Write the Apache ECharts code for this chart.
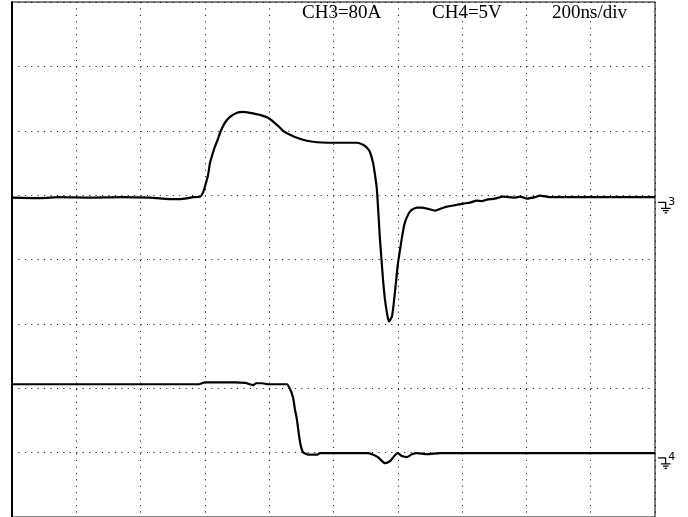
<!DOCTYPE html>
<html>
<head>
<meta charset="utf-8">
<script src="https://cdn.jsdelivr.net/npm/echarts@6/dist/echarts.min.js"></script>
<style>html,body{margin:0;padding:0;background:#fff;}#c{width:688px;height:517px;}</style>
</head>
<body>
<div id="c"></div>
<script>
// Time axis (ns), 200 ns/div, 10 divisions
var timeTicks = [0, 200, 400, 600, 800, 1000, 1200, 1400, 1600, 1800, 2000];
// Channel settings
var ch3Scale = 80;   // A/div
var ch4Scale = 5;    // V/div
var ch3Ground = 0.961; // divisions from screen centre
var ch4Ground = -3.008;
var labels = ['CH3=80A', 'CH4=5V', '200ns/div'];

// CH3 current (A) vs time (ns)
var ch3Time = [0, 87, 149, 243, 336, 429, 507, 538, 563, 585, 594, 600, 610, 616, 625, 631, 641, 647, 662, 678, 700, 718, 740, 771, 796, 824, 843, 865, 886, 917, 949, 980, 1036, 1073, 1092, 1104, 1113, 1123, 1129, 1135, 1144, 1154, 1160, 1166, 1172, 1182, 1191, 1200, 1207, 1216, 1222, 1232, 1238, 1247, 1260, 1275, 1291, 1316, 1334, 1353, 1378, 1403, 1424, 1446, 1462, 1477, 1502, 1527, 1564, 1580, 1602, 1627, 1642, 1673, 1735, 1829, 1922, 2000];
var ch3Amps = [0, -0.6, 0.6, 0, 0.6, 0, -1.9, -1.2, 0.6, 1.2, 6.2, 13.6, 28.5, 43.4, 55.8, 63.2, 73.2, 80.6, 93, 100.4, 105.4, 106.6, 105.4, 102.9, 99.2, 90.5, 83.1, 78.1, 74.4, 70.7, 68.8, 68.2, 68.2, 68.2, 65.7, 62, 57, 43.4, 28.5, 9.9, -48.4, -101.7, -126.5, -142.6, -153.8, -147.6, -117.8, -83.1, -64.5, -42.2, -31, -21.1, -17.4, -14.3, -12.4, -12.4, -13.6, -16.1, -13.6, -11.2, -9.3, -7.4, -6.2, -3.7, -4.3, -2.5, -1.2, 1.2, 0, 1.2, -1.2, 0.6, 2.5, 0.6, 0.6, 0.6, 0.6, 0.6];

// CH4 voltage (V) vs time (ns)
var ch4Time = [0, 274, 429, 582, 591, 600, 647, 694, 725, 740, 750, 759, 778, 796, 833, 855, 865, 874, 880, 886, 896, 905, 917, 927, 949, 958, 989, 1104, 1120, 1138, 1160, 1176, 1191, 1200, 1213, 1228, 1244, 1260, 1291, 1331, 1518, 1704, 1891, 2000];
var ch4Volts = [5.35, 5.35, 5.35, 5.35, 5.43, 5.50, 5.50, 5.50, 5.46, 5.35, 5.27, 5.43, 5.43, 5.35, 5.35, 5.35, 4.96, 4.34, 3.41, 2.64, 0.85, 0.08, -0.08, -0.12, -0.12, 0, 0, 0, -0.08, -0.31, -0.78, -0.62, -0.16, 0, -0.23, -0.31, -0.08, 0, -0.08, 0, 0, 0, 0, 0];

function build(times, vals, ground, scale) {
  return times.map(function (t, i) { return [t, ground + vals[i] / scale]; });
}

var groundPath = 'path://M3 4h8v1.2h-8z M10 4h1.2v6h-1.2z M6 10h9.5v1.2h-9.5z M8 12.3h5.5v1.2h-5.5z M9.6 14.6h2.3v1.1h-2.3z';
function groundMark(ground, digit) {
  return {
    silent: true,
    animation: false,
    symbol: groundPath,
    symbolSize: [12.5, 11.7],
    symbolOffset: [9.3, 9.9],
    itemStyle: { color: '#000' },
    label: { show: true, position: 'inside', offset: [7.5, -5.5], formatter: digit, color: '#000', fontFamily: 'DejaVu Sans', fontSize: 11 },
    data: [{ coord: [2000, ground] }]
  };
}

var titleStyle = { fontFamily: 'Liberation Serif', fontSize: 19, fontWeight: 'normal', color: '#000' };
var chart = echarts.init(document.getElementById('c'), null, { renderer: 'canvas' });
chart.setOption({
  backgroundColor: '#fff',
  animation: false,
  title: [
    { text: labels[0], left: 302, top: 4, padding: 0, textStyle: titleStyle },
    { text: labels[1], left: 432, top: 4, padding: 0, textStyle: titleStyle },
    { text: labels[2], left: 552, top: 4, padding: 0, textStyle: titleStyle }
  ],
  grid: { left: 12, top: 2, width: 643, height: 516, show: true, borderColor: '#000', borderWidth: 1, backgroundColor: 'transparent' },
  xAxis: {
    type: 'value', min: timeTicks[0], max: timeTicks[timeTicks.length - 1], interval: 200,
    axisLine: { show: false }, axisTick: { show: false }, axisLabel: { show: false },
    splitLine: { show: true, lineStyle: { color: '#000', width: 1, type: [1, 5.45] } }
  },
  yAxis: {
    type: 'value', min: -4, max: 4, interval: 1,
    axisLine: { show: true, onZero: false, lineStyle: { color: '#000', width: 2 } },
    axisTick: { show: false }, axisLabel: { show: false },
    splitLine: { show: true, lineStyle: { color: '#000', width: 1, type: [1, 5.43] } }
  },
  series: [
    {
      name: 'CH3', type: 'line', data: build(ch3Time, ch3Amps, ch3Ground, ch3Scale),
      showSymbol: false, smooth: 0.2, clip: false,
      lineStyle: { color: '#000', width: 2.2 },
      markPoint: groundMark(ch3Ground, '3')
    },
    {
      name: 'CH4', type: 'line', data: build(ch4Time, ch4Volts, ch4Ground, ch4Scale),
      showSymbol: false, smooth: 0.2, clip: false,
      lineStyle: { color: '#000', width: 2.2 },
      markPoint: groundMark(ch4Ground, '4')
    }
  ]
});
</script>
</body>
</html>
